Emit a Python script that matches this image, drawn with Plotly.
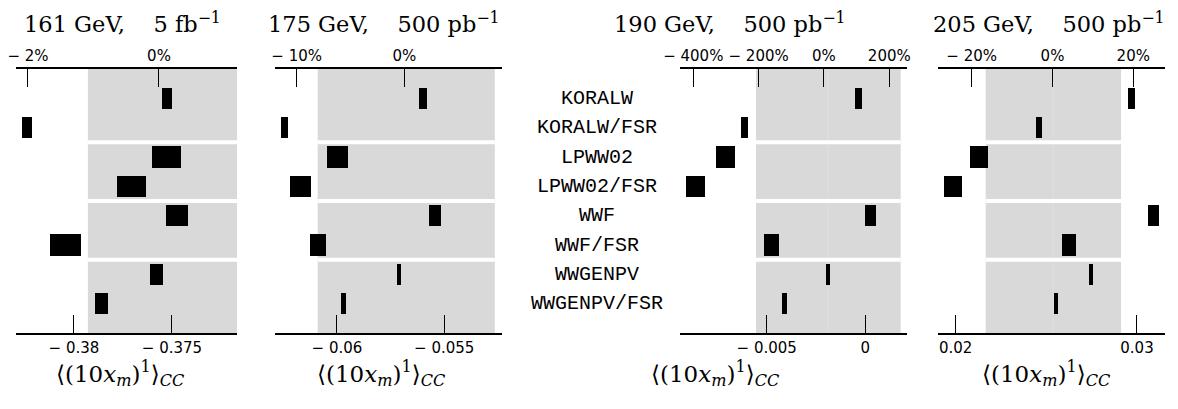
import plotly.graph_objects as go

W, H = 1178, 409
OFF = 8  # page body margin offset in the browser

models = ["KORALW", "KORALW/FSR", "LPWW02", "LPWW02/FSR",
          "WWF", "WWF/FSR", "WWGENPV", "WWGENPV/FSR"]

titles = ["161 GeV,\u00a0\u00a0\u00a0\u00a05 fb<sup>\u22121</sup>",
          "175 GeV,\u00a0\u00a0\u00a0\u00a0500 pb<sup>\u22121</sup>",
          "190 GeV,\u00a0\u00a0\u00a0\u00a0500 pb<sup>\u22121</sup>",
          "205 GeV,\u00a0\u00a0\u00a0\u00a0500 pb<sup>\u22121</sup>"]

val_161 = [-0.37527, -0.38239, -0.37527, -0.37708, -0.37473, -0.38043, -0.37578, -0.37861]
err_161 = [0.000255, 0.000255, 0.00073, 0.00074, 0.00057, 0.00079, 0.00033, 0.00032]
val_175 = [-0.05599, -0.06244, -0.05996, -0.06171, -0.05542, -0.06089, -0.05712, -0.05971]
err_175 = [0.000172, 0.000172, 0.00049, 0.00050, 0.00027, 0.00037, 0.00010, 0.000107]
val_190 = [-0.000335, -0.006116, -0.00709, -0.00862, 0.000264, -0.004767, -0.001892, -0.004097]
err_190 = [0.000167, 0.000188, 0.00048, 0.00049, 0.00028, 0.00039, 0.00010, 0.00011]
val_205 = [0.029713, 0.024611, 0.021296, 0.019862, 0.030922, 0.026266, 0.027463, 0.025533]
err_205 = [0.000177, 0.000182, 0.00051, 0.00051, 0.00029, 0.00039, 0.00011, 0.00011]

values = [val_161, val_175, val_190, val_205]
errors = [err_161, err_175, err_190, err_205]

bottom_ticks = [[-0.38, -0.375], [-0.06, -0.055], [-0.005, 0.0], [0.02, 0.03]]
bottom_text = [["\u2212 0.38", "\u2212 0.375"], ["\u2212 0.06", "\u2212 0.055"],
               ["\u2212 0.005", "0"], ["0.02", "0.03"]]
top_ticks = [[-2, 0], [-10, 0], [-400, -200, 0, 200], [-20, 0, 20]]
top_text = [["\u2212 2%", "0%"], ["\u2212 10%", "0%"],
            ["\u2212 400%", "\u2212 200%", "0%", "200%"], ["\u2212 20%", "0%", "20%"]]

bottom_range = [[-0.38296, -0.37168], [-0.06289, -0.05232],
                [-0.009397, 0.0021], [0.01904, 0.031545]]
top_range = [[-2.183, 1.191], [-12.017, 9.052], [-440.7, 253.3], [-28.27, 27.85]]
band = [[-0.37929, -0.37168], [-0.0609, -0.05264],
        [-0.005543, 0.001795], [0.021655, 0.029118]]
band_split = [None, None, -0.00188, 0.02538]

# layout geometry (target pixels in the screenshot)
dom_px = [[16, 237], [275, 501.7], [680, 906.7], [938.3, 1165]]
y_top_px, y_bot_px = 69, 333
title_x_px = [22, 266, 612, 931]
xlabel_x_px = [120, 381, 715, 1046]
label_x_px = 597


def px(x):
    return (x - OFF) / W


def py(y):
    return 1 - (y - OFF) / H


fig = go.Figure()
layout = dict(width=W, height=H, margin=dict(l=0, r=0, t=0, b=0, autoexpand=False),
              paper_bgcolor="white", plot_bgcolor="rgba(0,0,0,0)",
              showlegend=False, bargap=0)

ydom = [py(y_bot_px), py(y_top_px)]
layout["yaxis"] = dict(domain=ydom, range=[8, -1], visible=False, fixedrange=True)

shapes = []
annotations = []
tickfont = dict(family="DejaVu Sans", size=15, color="black")

for i in range(4):
    bx = "x" if i == 0 else f"x{i+1}"
    tx = f"x{i+5}"
    bkey = "xaxis" if i == 0 else f"xaxis{i+1}"
    tkey = f"xaxis{i+5}"
    dom = [px(dom_px[i][0]), px(dom_px[i][1])]
    common = dict(showline=True, linecolor="black", linewidth=1.5,
                  ticks="inside", ticklen=18, tickwidth=1, tickcolor="black",
                  tickfont=tickfont, showgrid=False, zeroline=False,
                  ticklabeloverflow="allow")
    layout[bkey] = dict(domain=dom, range=bottom_range[i], anchor="y", side="bottom",
                        tickvals=bottom_ticks[i], ticktext=bottom_text[i], **common)
    layout[tkey] = dict(overlaying=bx, range=top_range[i], anchor="y", side="top",
                        tickvals=top_ticks[i], ticktext=top_text[i], **common)

    vals, errs = values[i], errors[i]
    fig.add_trace(go.Bar(
        y=list(range(len(models))),
        x=[2 * e for e in errs],
        base=[v - e for v, e in zip(vals, errs)],
        orientation="h", width=0.72,
        marker=dict(color="black", line=dict(width=0)),
        xaxis=bx, yaxis="y", hoverinfo="skip"))
    fig.add_trace(go.Scatter(x=top_ticks[i], y=[-1] * len(top_ticks[i]),
                             mode="markers", marker=dict(opacity=0),
                             xaxis=tx, yaxis="y", hoverinfo="skip"))

    shapes.append(dict(type="rect", xref=bx, yref="y", x0=band[i][0], x1=band[i][1],
                       y0=-1, y1=8, fillcolor="#d9d9d9", line=dict(width=0),
                       layer="below"))
    if band_split[i] is not None:
        shapes.append(dict(type="line", xref=bx, yref="y", x0=band_split[i],
                           x1=band_split[i], y0=-1, y1=8,
                           line=dict(color="#dfdfdf", width=1), layer="below"))
    for ysep in [1.5, 3.5, 5.5]:
        shapes.append(dict(type="line", xref=bx, yref="y", x0=band[i][0], x1=band[i][1],
                           y0=ysep, y1=ysep, line=dict(color="white", width=4),
                           layer="below"))

    annotations.append(dict(text=titles[i], xref="paper", yref="paper",
                            x=px(title_x_px[i]), y=py(22),
                            xanchor="left", yanchor="middle", showarrow=False,
                            font=dict(family="DejaVu Serif", size=22.5, color="black")))
    annotations.append(dict(
        text="\u27e8(10<i>x</i><sub><i>m</i></sub>)<sup>1</sup>\u27e9<sub><i>CC</i></sub>",
        xref="paper", yref="paper", x=px(xlabel_x_px[i]), y=py(373),
        xanchor="center", yanchor="middle", showarrow=False,
        font=dict(family="DejaVu Serif", size=23, color="black")))

for k, m in enumerate(models):
    annotations.append(dict(text=m, xref="paper", yref="y", x=px(label_x_px), y=k,
                            xanchor="center", yanchor="middle", showarrow=False,
                            font=dict(family="Liberation Mono", size=20, color="black")))

layout["shapes"] = shapes
layout["annotations"] = annotations
fig.update_layout(**layout)
fig.write_html("out.html")
